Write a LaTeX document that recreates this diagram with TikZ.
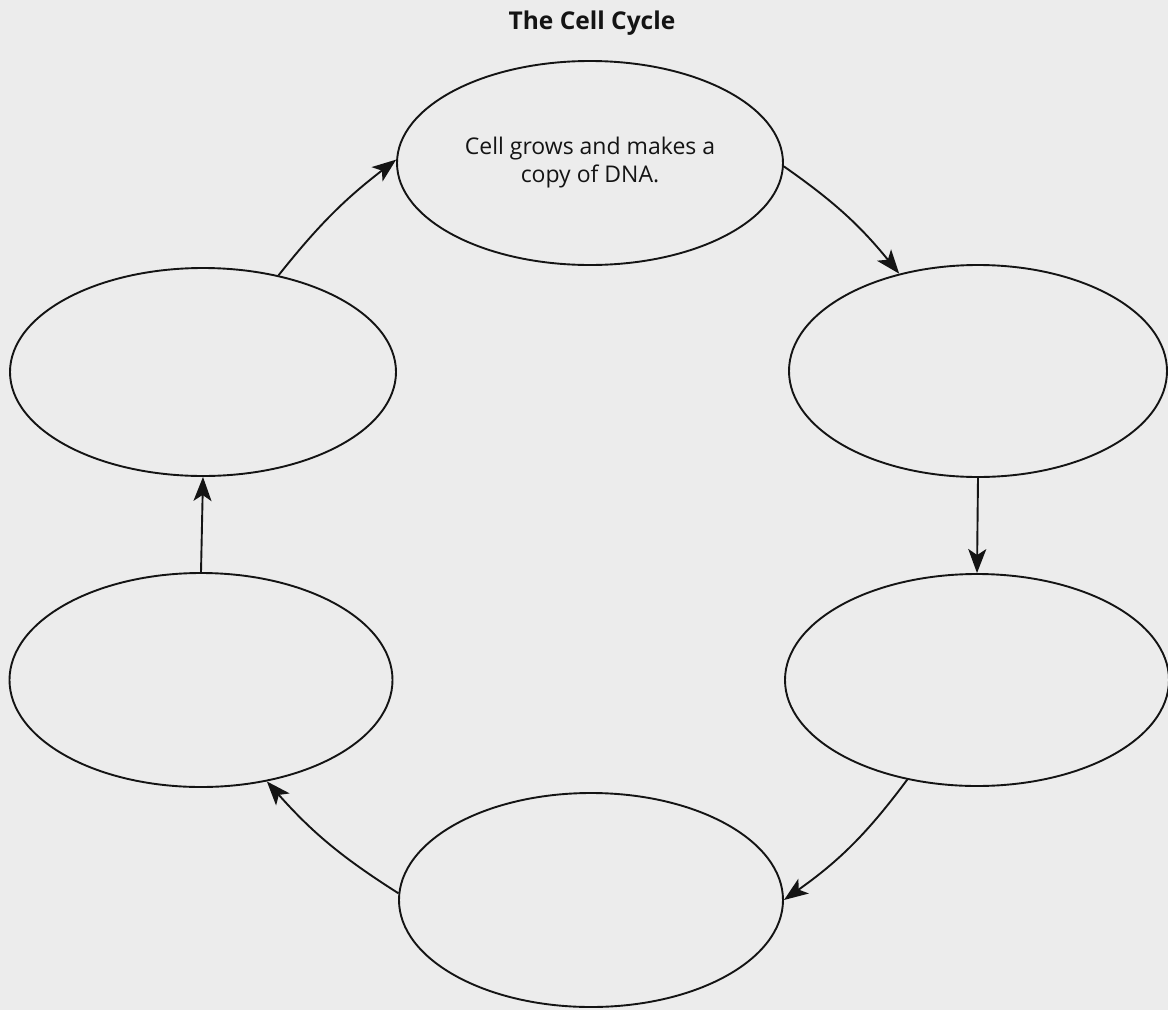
\documentclass[tikz,border=0pt]{standalone}
\usepackage{fontspec}
\setmainfont{Open Sans}
\usetikzlibrary{shapes.geometric,arrows.meta}
\definecolor{paper}{rgb}{0.925,0.925,0.925}
\definecolor{ink}{rgb}{0.08,0.08,0.08}
\begin{document}
\begin{tikzpicture}[x=1pt,y=-1pt,
  phase/.style={ellipse, draw=ink, line width=1.9pt, inner sep=0pt, align=center, font=\fontsize{23}{28}\selectfont, text=ink},
  flow/.style={draw=ink, line width=1.9pt, -{Stealth[length=24pt,width=18pt,inset=6pt]}},
  title/.style={font=\bfseries\fontsize{24.5}{29}\selectfont, text=ink}]
\fill[paper] (0,0) rectangle (1168,1010);
\useasboundingbox (0,0) rectangle (1168,1010);
\node[title] (t) at (592,23) {The Cell Cycle};
\node[phase, minimum width=386pt, minimum height=204pt] (top) at (590,163) {Cell grows and makes a\\copy of DNA.};
\node[phase, minimum width=378pt, minimum height=212pt] (rt) at (978,371) {};
\node[phase, minimum width=384pt, minimum height=212pt] (rb) at (977,680) {};
\node[phase, minimum width=384pt, minimum height=214pt] (bot) at (591,900) {};
\node[phase, minimum width=383pt, minimum height=214pt] (lb) at (201,680) {};
\node[phase, minimum width=386pt, minimum height=208pt] (lt) at (203,372) {};
\draw[flow] (lt.52) to[bend left=7] (top.179);
\draw[flow] (top.-1) to[bend left=8] (rt.129);
\draw[flow] (rt.270) -- (rb.90);
\draw[flow] (rb.235) to[bend left=9] (bot.0);
\draw[flow] (bot.178) to[bend left=8] (lb.-57);
\draw[flow] (lb.90) -- (lt.270);
\end{tikzpicture}
\end{document}
